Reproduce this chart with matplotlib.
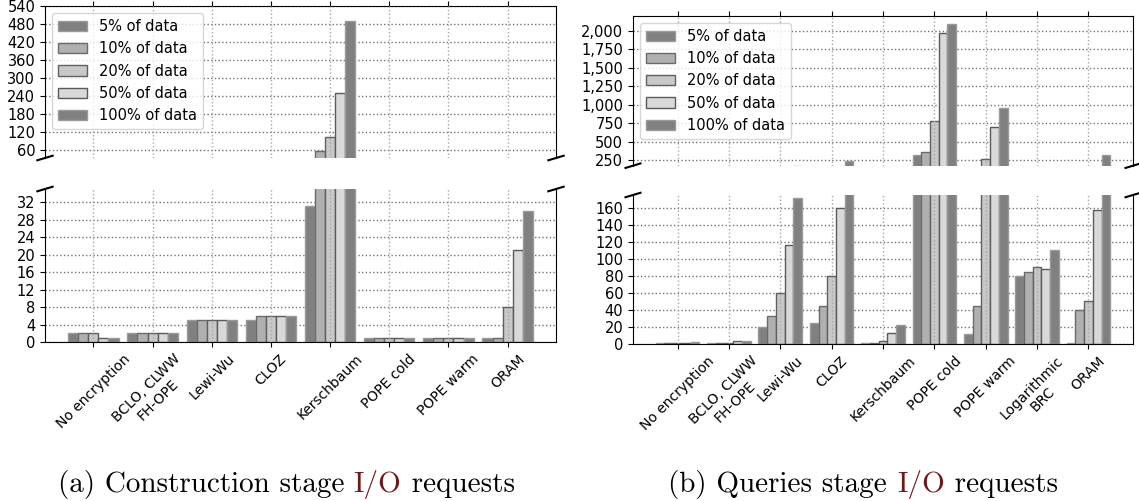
import numpy as np
import matplotlib
matplotlib.use('Agg')
import matplotlib.pyplot as plt
from matplotlib.ticker import FuncFormatter

# series labels (shared by both panels)
labels = ['5% of data', '10% of data', '20% of data', '50% of data', '100% of data']

# (a) construction stage I/O requests
cats_a = ['No encryption', 'BCLO, CLWW\nFH-OPE', 'Lewi-Wu', 'CLOZ', 'Kerschbaum',
          'POPE cold', 'POPE warm', 'ORAM']
a_5 = [2, 2, 5, 5, 31, 1, 1, 1]
a_10 = [2, 2, 5, 6, 57, 1, 1, 1]
a_20 = [2, 2, 5, 6, 105, 1, 1, 8]
a_50 = [1, 2, 5, 6, 250, 1, 1, 21]
a_100 = [1, 2, 5, 6, 490, 1, 1, 30]

# (b) queries stage I/O requests
cats_b = ['No encryption', 'BCLO, CLWW\nFH-OPE', 'Lewi-Wu', 'CLOZ', 'Kerschbaum',
          'POPE cold', 'POPE warm', 'Logarithmic\nBRC', 'ORAM']
b_5 = [1, 1, 20, 25, 1, 318, 12, 80, 1]
b_10 = [1, 1, 33, 45, 1, 366, 45, 84, 40]
b_20 = [1, 1, 60, 80, 3, 772, 262, 90, 51]
b_50 = [1, 3, 116, 160, 13, 1970, 698, 88, 157]
b_100 = [2, 4, 171, 240, 22, 2085, 948, 110, 320]

fills = ['#808080', '#b0b0b0', '#c8c8c8', '#d9d9d9', '#808080']
edges = ['#9a9a9a', '#6a6a6a', '#606060', '#5a5a5a', '#9a9a9a']
width = 0.17
FS = 10
YFS = 10.5

plt.rcParams['font.family'] = 'DejaVu Sans'
plt.rcParams['font.size'] = FS

fig = plt.figure(figsize=(11.39, 5.01), dpi=100)


def px_axes(x0, y0, x1, y1):
    W, H = 1139.0, 501.0
    return fig.add_axes([x0 / W, 1 - y1 / H, (x1 - x0) / W, (y1 - y0) / H])


def panel(ax_top, ax_bot, cats, series, top_lim, top_ticks, bot_lim, bot_ticks, fmt=None):
    x = np.arange(len(cats))
    for i, vals in enumerate(series):
        for ax in (ax_top, ax_bot):
            ax.bar(x + (i - 2) * width, vals, width, color=fills[i],
                   edgecolor=edges[i], linewidth=1.0, label=labels[i], zorder=2)
    ax_top.set_ylim(*top_lim)
    ax_bot.set_ylim(*bot_lim)
    ax_top.set_yticks(top_ticks)
    ax_bot.set_yticks(bot_ticks)
    if fmt is not None:
        ax_top.yaxis.set_major_formatter(fmt)
    for ax in (ax_top, ax_bot):
        ax.set_xticks(x)
        ax.set_axisbelow(True)
        ax.yaxis.grid(True, linestyle=':', color='0.45', linewidth=1.0)
        for xi in x:
            ax.axvline(xi, linestyle=':', color='0.65', linewidth=1.0, zorder=3)
        ax.tick_params(axis='y', labelsize=YFS)
        ax.tick_params(axis='x', labelsize=FS)
    ax_bot.set_xticklabels(cats, rotation=45, ha='center')

    # broken axis
    ax_top.spines['bottom'].set_visible(False)
    ax_bot.spines['top'].set_visible(False)
    ax_top.xaxis.tick_top()
    ax_top.tick_params(labeltop=False)
    ax_bot.xaxis.tick_bottom()
    d = .015
    kw = dict(transform=ax_top.transAxes, color='k', clip_on=False, lw=1.5)
    ax_top.plot((-d, +d), (-d, +d), **kw)
    ax_top.plot((1 - d, 1 + d), (-d, +d), **kw)
    kw.update(transform=ax_bot.transAxes)
    ax_bot.plot((-d, +d), (1 - d, 1 + d), **kw)
    ax_bot.plot((1 - d, 1 + d), (1 - d, 1 + d), **kw)

    ax_top.legend(loc='upper left', fontsize=10.5)


ax1t = px_axes(45, 6, 556, 158)
ax1b = px_axes(45, 189, 556, 342)
panel(ax1t, ax1b, cats_a, [a_5, a_10, a_20, a_50, a_100],
      (35, 540), np.arange(60, 541, 60), (0, 35), np.arange(0, 33, 4))

ax2t = px_axes(633, 15.7, 1133, 165.7)
ax2b = px_axes(633, 195, 1133, 344)
panel(ax2t, ax2b, cats_b, [b_5, b_10, b_20, b_50, b_100],
      (175, 2200), np.arange(250, 2001, 250), (0, 175), np.arange(0, 161, 20),
      fmt=FuncFormatter(lambda v, p: '{:,.0f}'.format(v)))


# captions with coloured "I/O"
def caption(xc, prefix):
    parts = [(prefix, 'black'), ('I/O', '#701818'), (' requests', 'black')]
    y = 1 - 492 / 501.0
    renderer = fig.canvas.get_renderer()
    texts = []
    for s, c in parts:
        texts.append(fig.text(0, y, s, color=c, fontfamily='cmr10', fontsize=21,
                              va='baseline', ha='left'))
    widths = [t.get_window_extent(renderer).width for t in texts]
    total = sum(widths)
    x = xc - total / 2
    for t, w in zip(texts, widths):
        t.set_x(x / 1139.0)
        x += w


caption(286, '(a) Construction stage ')
caption(863, '(b) Queries stage ')

fig.savefig('out.png', dpi=100)
